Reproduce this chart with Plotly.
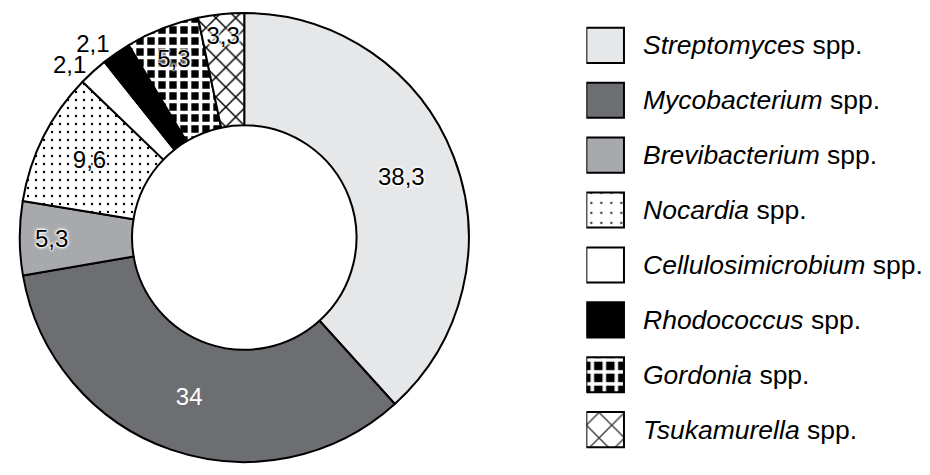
import plotly.graph_objects as go

genera = ["Streptomyces", "Mycobacterium", "Brevibacterium", "Nocardia",
          "Cellulosimicrobium", "Rhodococcus", "Gordonia", "Tsukamurella"]
shares = [38.3, 34, 5.3, 9.6, 2.1, 2.1, 5.3, 3.3]

fills = ["#e6e7e8", "#6d6e71", "#a7a9ac", "white", "white", "black", "black", "white"]
shapes = ["", "", "", ".", "", "", "+", "x"]
pat_fg = ["black", "black", "black", "black", "black", "black", "white", "black"]
txt_color = ["black", "white", "black", "black", "black", "black", "black", "black"]

labels = [f"<i>{g}</i> spp." for g in genera]
pct_text = [f"{v:g}".replace(".", ",") for v in shares]

FONT = "Liberation Sans, Arial, Helvetica, sans-serif"
HALO = "0 0 2px white, 0 0 2px white, 0 0 3px white, 0 0 3px white, 0 0 4px white"
W, H = 914, 459  # page body keeps an 8px margin around the figure

# main trace: haloed black labels; second (transparent) trace: the white "34"
# and one of the 2,1 labels, so plotly does not push the two 2,1 labels apart
main_pos = ["inside", "none", "inside", "inside", "outside", "none", "inside", "inside"]
extra_pos = ["none", "inside", "none", "none", "none", "outside", "none", "none"]

pie_dom = dict(x=[0, H / W], y=[0, 1])

fig = go.Figure()

fig.add_trace(go.Pie(
    labels=labels, values=shares, text=pct_text, textinfo="text",
    sort=False, direction="clockwise", rotation=0, hole=0.5, domain=pie_dom,
    marker=dict(colors=fills, line=dict(color="black", width=2),
                pattern=dict(shape=shapes, fgcolor=pat_fg, fgopacity=1,
                             size=[10, 10, 10, 8, 10, 10, 11, 14],
                             solidity=[0.2, 0.2, 0.2, 0.07, 0.2, 0.2, 0.55, 0.2],
                             fillmode="overlay")),
    textposition=main_pos, insidetextorientation="horizontal",
    textfont=dict(family=FONT, size=24, color="black", shadow=HALO),
    outsidetextfont=dict(family=FONT, size=24, color="black", shadow="none"),
    showlegend=False, hoverinfo="label+value",
))

fig.add_trace(go.Pie(
    labels=labels, values=shares, text=pct_text, textinfo="text",
    sort=False, direction="clockwise", rotation=0, hole=0.5, domain=pie_dom,
    marker=dict(colors=["rgba(0,0,0,0)"] * len(shares), line=dict(width=0)),
    textposition=extra_pos, insidetextorientation="horizontal",
    textfont=dict(family=FONT, size=24, color=txt_color),
    showlegend=False, hoverinfo="skip",
))

# legend drawn as a small horizontal bar chart: one square swatch per genus
fig.add_trace(go.Bar(
    y=labels, x=[1] * len(labels), orientation="h", width=0.64,
    marker=dict(color=fills, line=dict(color="black", width=2),
                pattern=dict(shape=shapes, fgcolor=pat_fg, fgopacity=1,
                             size=[10, 10, 10, 10, 10, 10, 12, 18],
                             solidity=[0.2, 0.2, 0.2, 0.05, 0.2, 0.2, 0.5, 0.16],
                             fillmode="overlay")),
    showlegend=False, hoverinfo="y",
))

for lab in labels:
    fig.add_annotation(x=1.45, y=lab, xref="x", yref="y", text=lab,
                       showarrow=False, xanchor="left", yanchor="middle",
                       font=dict(family=FONT, size=26.5, color="black"))

fig.update_layout(
    width=W, height=H,
    margin=dict(l=0, r=0, t=0, b=0),
    paper_bgcolor="white", plot_bgcolor="white",
    uniformtext=dict(minsize=24, mode="show"),
    xaxis=dict(domain=[575 / W, 1], range=[0, (W - 575) / 38], visible=False),
    yaxis=dict(domain=[5 / H, 1 - 5 / H], range=[7.5, -0.5], visible=False,
               type="category"),
    font=dict(family=FONT, color="black"),
)

fig.write_html("out.html")
